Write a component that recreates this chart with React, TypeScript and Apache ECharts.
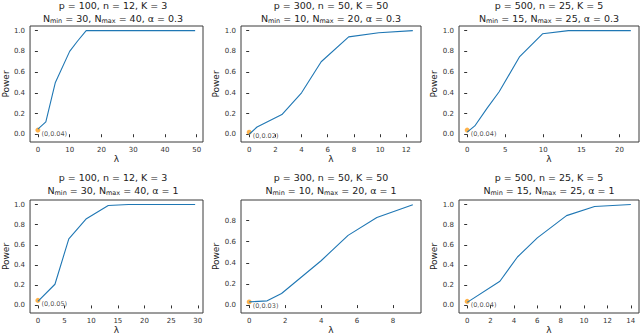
import React, { useEffect, useRef } from "react";
import * as echarts from "echarts";

// ---- data ----
const lam1 = [0, 2.5, 5.5, 10, 12.5, 15.2, 20, 30, 40, 49.5];
const pow1 = [0.05, 0.12, 0.5, 0.8, 0.9, 1.0, 1.0, 1.0, 1.0, 1.0];
const lam2 = [0, 0.6, 2.5, 4, 5.5, 7.6, 9.9, 12.5];
const pow2 = [0.0, 0.07, 0.19, 0.4, 0.7, 0.94, 0.98, 1.0];
const lam3 = [0, 1, 2.6, 4.2, 6.9, 9.9, 13.3, 21.5];
const pow3 = [0.02, 0.08, 0.25, 0.41, 0.75, 0.97, 1.0, 1.0];
const lam4 = [0, 3.2, 5.8, 9.1, 13.2, 17, 29.5];
const pow4 = [0.04, 0.21, 0.66, 0.86, 0.99, 1.0, 1.0];
const lam5 = [0, 1.0, 1.8, 4.0, 5.5, 7.1, 9.1];
const pow5 = [0.03, 0.04, 0.11, 0.42, 0.66, 0.83, 0.95];
const lam6 = [0, 2.8, 4.3, 6, 8.5, 10.9, 14];
const pow6 = [0.03, 0.24, 0.48, 0.67, 0.89, 0.98, 1.0];

const nullPower = [0.04, 0.02, 0.04, 0.05, 0.03, 0.04];
const nullLabels = ["(0,0.04)", "(0,0.02)", "(0,0.04)", "(0,0.05)", "(0,0.03)", "(0,0.04)"];

const xTicks = [
  [0, 10, 20, 30, 40, 50],
  [0, 2, 4, 6, 8, 10, 12],
  [0, 5, 10, 15, 20],
  [0, 5, 10, 15, 20, 25, 30],
  [0, 2, 4, 6, 8],
  [0, 2, 4, 6, 8, 10, 12, 14],
];
const yTicks = [
  [0, 0.2, 0.4, 0.6, 0.8, 1.0],
  [0, 0.2, 0.4, 0.6, 0.8, 1.0],
  [0, 0.2, 0.4, 0.6, 0.8, 1.0],
  [0, 0.2, 0.4, 0.6, 0.8, 1.0],
  [0, 0.2, 0.4, 0.6, 0.8],
  [0, 0.2, 0.4, 0.6, 0.8, 1.0],
];

const titleP = ["p = 100, n = 12, K = 3", "p = 300, n = 50, K = 50", "p = 500, n = 25, K = 5",
  "p = 100, n = 12, K = 3", "p = 300, n = 50, K = 50", "p = 500, n = 25, K = 5"];
const nMin = [30, 10, 15, 30, 10, 15];
const nMax = [40, 20, 25, 40, 20, 25];
const alphas = ["0.3", "0.3", "0.3", "1", "1", "1"];

const lams = [lam1, lam2, lam3, lam4, lam5, lam6];
const pows = [pow1, pow2, pow3, pow4, pow5, pow6];

export default function App() {
  const ref = useRef<HTMLDivElement>(null);
  useEffect(() => {
    if (!ref.current) return;
    const chart = echarts.init(ref.current, null, { renderer: "svg" });
    const font = "DejaVu Sans";
    const colLeft = [23, 241, 459];
    const rowTop = [26, 200];
    const W = 180;
    const H = 116;
    const grids: any[] = [];
    const xAxes: any[] = [];
    const yAxes: any[] = [];
    const series: any[] = [];
    const graphics: any[] = [];
    for (let i = 0; i < 6; i++) {
      const c = i % 3;
      const r = Math.floor(i / 3);
      grids.push({
        left: colLeft[c], top: rowTop[r], width: W, height: H,
        show: true, borderColor: "#3a3a3a", borderWidth: 1, backgroundColor: "transparent",
      });
      const lx = lams[i];
      const py = pows[i];
      const xmaxD = Math.max(...lx);
      const pad = xmaxD * 0.05;
      const ymaxD = Math.max(...py);
      const ymin = -0.075;
      const ymax = ymaxD + 0.045;
      xAxes.push({
        type: "value", gridIndex: i, min: -pad, max: xmaxD + pad,
        name: "λ", nameLocation: "middle", nameGap: 12,
        nameTextStyle: { fontFamily: font, fontSize: 9, color: "#222" },
        axisLine: { show: false },
        splitLine: { show: false },
        axisTick: { show: true, length: 3, customValues: xTicks[i], lineStyle: { color: "#333" } },
        axisLabel: { customValues: xTicks[i], fontFamily: font, fontSize: 7, color: "#333", margin: 4 },
      });
      yAxes.push({
        type: "value", gridIndex: i, min: ymin, max: ymax,
        name: "Power", nameLocation: "middle", nameGap: 18,
        nameTextStyle: { fontFamily: font, fontSize: 9, color: "#222" },
        axisLine: { show: false },
        splitLine: { show: false },
        axisTick: { show: true, length: 3, customValues: yTicks[i], lineStyle: { color: "#333" } },
        axisLabel: {
          customValues: yTicks[i], fontFamily: font, fontSize: 7, color: "#333", margin: 5,
          formatter: (v: number) => v.toFixed(1),
        },
      });
      series.push({
        type: "line", xAxisIndex: i, yAxisIndex: i,
        data: lx.map((x, k) => [x, py[k]]),
        showSymbol: false, symbol: "none",
        lineStyle: { color: "#1f77b4", width: 1.1 },
      });
      series.push({
        type: "scatter", xAxisIndex: i, yAxisIndex: i,
        data: [[0, nullPower[i]]],
        symbolSize: 5, itemStyle: { color: "#ff9f1c" },
        label: {
          show: true, formatter: nullLabels[i], position: "right", offset: [-4, 4],
          fontFamily: font, fontSize: 6.5, color: "#222",
        },
      });
      const cx = colLeft[c] + W / 2;
      const t1y = r === 0 ? 5 : 177;
      graphics.push({
        type: "text", x: cx, y: t1y,
        style: {
          text: titleP[i], fontFamily: font, fontSize: 9.5, fill: "#222",
          align: "center", verticalAlign: "middle", textAlign: "center", textVerticalAlign: "middle",
        },
      });
      graphics.push({
        type: "text", x: cx, y: t1y + 13,
        style: {
          text: `{a|N}{s|min}{a| = ${nMin[i]}, N}{s|max}{a| = ${nMax[i]}, α = ${alphas[i]}}`,
          fontFamily: font, fontSize: 9.5, fill: "#222",
          align: "center", verticalAlign: "middle", textAlign: "center", textVerticalAlign: "middle",
          rich: {
            a: { fontFamily: font, fontSize: 9.5, fill: "#222", color: "#222", lineHeight: 12 },
            s: { fontFamily: font, fontSize: 6.5, fill: "#222", color: "#222", lineHeight: 12, verticalAlign: "bottom", padding: [4, 0, 0, 0] },
          },
        },
      });
    }
    chart.setOption({
      animation: false,
      backgroundColor: "#ffffff",
      grid: grids,
      xAxis: xAxes,
      yAxis: yAxes,
      series,
      graphic: graphics,
    });
    return () => chart.dispose();
  }, []);
  return <div ref={ref} style={{ position: "fixed", left: 0, top: 0, width: 640, height: 335 }} />;
}
